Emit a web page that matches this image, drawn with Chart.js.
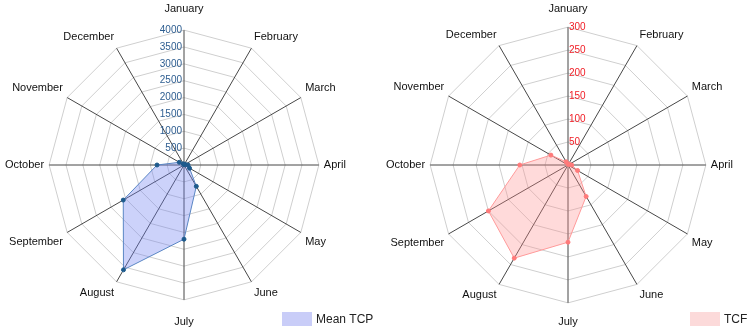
<!DOCTYPE html>
<html>
<head>
<meta charset="utf-8">
<script src="https://cdn.jsdelivr.net/npm/chart.js@4.4.0/dist/chart.umd.min.js"></script>
<style>
  body { margin: 0; background: #fff; }
  #wrap { display: flex; width: 754px; height: 330px; overflow: hidden; }
  canvas { display: block; }
  #tcpChart { margin-left: -3px; margin-right: 3px; }
</style>
</head>
<body>
<div id="wrap">
  <canvas id="tcpChart" width="377" height="330"></canvas>
  <canvas id="tcfChart" width="377" height="330"></canvas>
</div>
<script>
const months = ['January', 'February', 'March', 'April', 'May', 'June',
                'July', 'August', 'September', 'October', 'November', 'December'];

const meanTcp = [10, 15, 40, 120, 190, 730, 2200, 3590, 2080, 800, 160, 40];
const tcf = [2, 2, 3, 8, 24, 79, 168, 234, 200, 105, 43, 8];

const tcpTicks = [500, 1000, 1500, 2000, 2500, 3000, 3500, 4000];
const tcfTicks = [50, 100, 150, 200, 250, 300];

const labelFont = 'Liberation Sans, Arial, sans-serif';

// draws the r-axis numbers beside the January spoke, and the legend box
const sideTicks = {
    id: 'sideTicks',
    afterDraw(chart, args, opts) {
        const scale = chart.scales.r;
        const ctx = chart.ctx;
        ctx.save();
        ctx.font = '10px ' + labelFont;
        ctx.fillStyle = opts.color;
        ctx.textBaseline = 'middle';
        ctx.textAlign = opts.side === 'left' ? 'right' : 'left';
        opts.values.forEach(v => {
            const y = scale.yCenter - scale.getDistanceFromCenterForValue(v);
            const x = opts.side === 'left' ? scale.xCenter - 2 : scale.xCenter + 1;
            ctx.fillText(String(v), x, y);
        });

        // legend
        const ds = chart.data.datasets[0];
        ctx.fillStyle = opts.legendColor;
        ctx.fillRect(opts.legendX, 312, 30, 14);
        ctx.fillStyle = '#222';
        ctx.font = '12px ' + labelFont;
        ctx.textAlign = 'left';
        ctx.fillText(ds.label, opts.legendX + 34, 320);
        ctx.restore();
    }
};

function makeRadar(canvasId, label, values, max, step, ticks, style) {
    const ctx = document.getElementById(canvasId).getContext('2d');
    return new Chart(ctx, {
        type: 'radar',
        data: {
            labels: months,
            datasets: [{
                label: label,
                data: values,
                backgroundColor: style.fill,
                borderColor: style.border,
                borderWidth: 1,
                pointBackgroundColor: style.point,
                pointBorderColor: style.point,
                pointRadius: 2,
                pointBorderWidth: 1
            }]
        },
        options: {
            responsive: false,
            animation: false,
            layout: { padding: style.padding },
            plugins: {
                legend: { display: false },
                tooltip: { enabled: false },
                sideTicks: {
                    values: ticks,
                    color: style.tickColor,
                    side: style.side,
                    legendColor: style.legendColor,
                    legendX: style.legendX
                }
            },
            scales: {
                r: {
                    min: 0,
                    max: max,
                    ticks: { stepSize: step, display: false },
                    grid: { color: '#cfcfcf', lineWidth: 1 },
                    angleLines: { color: '#474747', lineWidth: 1 },
                    pointLabels: {
                        color: '#111',
                        font: { size: 11, family: labelFont },
                        padding: c => (c.index === 0 || c.index === 6) ? style.poleGap : 5
                    }
                }
            }
        },
        plugins: [sideTicks]
    });
}

makeRadar('tcpChart', 'Mean TCP', meanTcp, 4000, 500, tcpTicks, {
    fill: 'rgba(110, 125, 240, 0.35)',
    border: '#5a86c4',
    point: '#1d5a8c',
    tickColor: '#2d5d90',
    side: 'left',
    legendColor: '#c9cdf8',
    legendX: 285,
    poleGap: 15,
    padding: { left: -10, right: 19, top: 0, bottom: 0 }
});

makeRadar('tcfChart', 'TCF', tcf, 300, 50, tcfTicks, {
    fill: 'rgba(255, 140, 140, 0.32)',
    border: '#ff9a9a',
    point: '#ff7a7a',
    tickColor: '#f01c24',
    side: 'right',
    legendColor: '#fcdada',
    legendX: 313,
    poleGap: 12,
    padding: { left: 0, right: 12, top: 0, bottom: 0 }
});
</script>
</body>
</html>
